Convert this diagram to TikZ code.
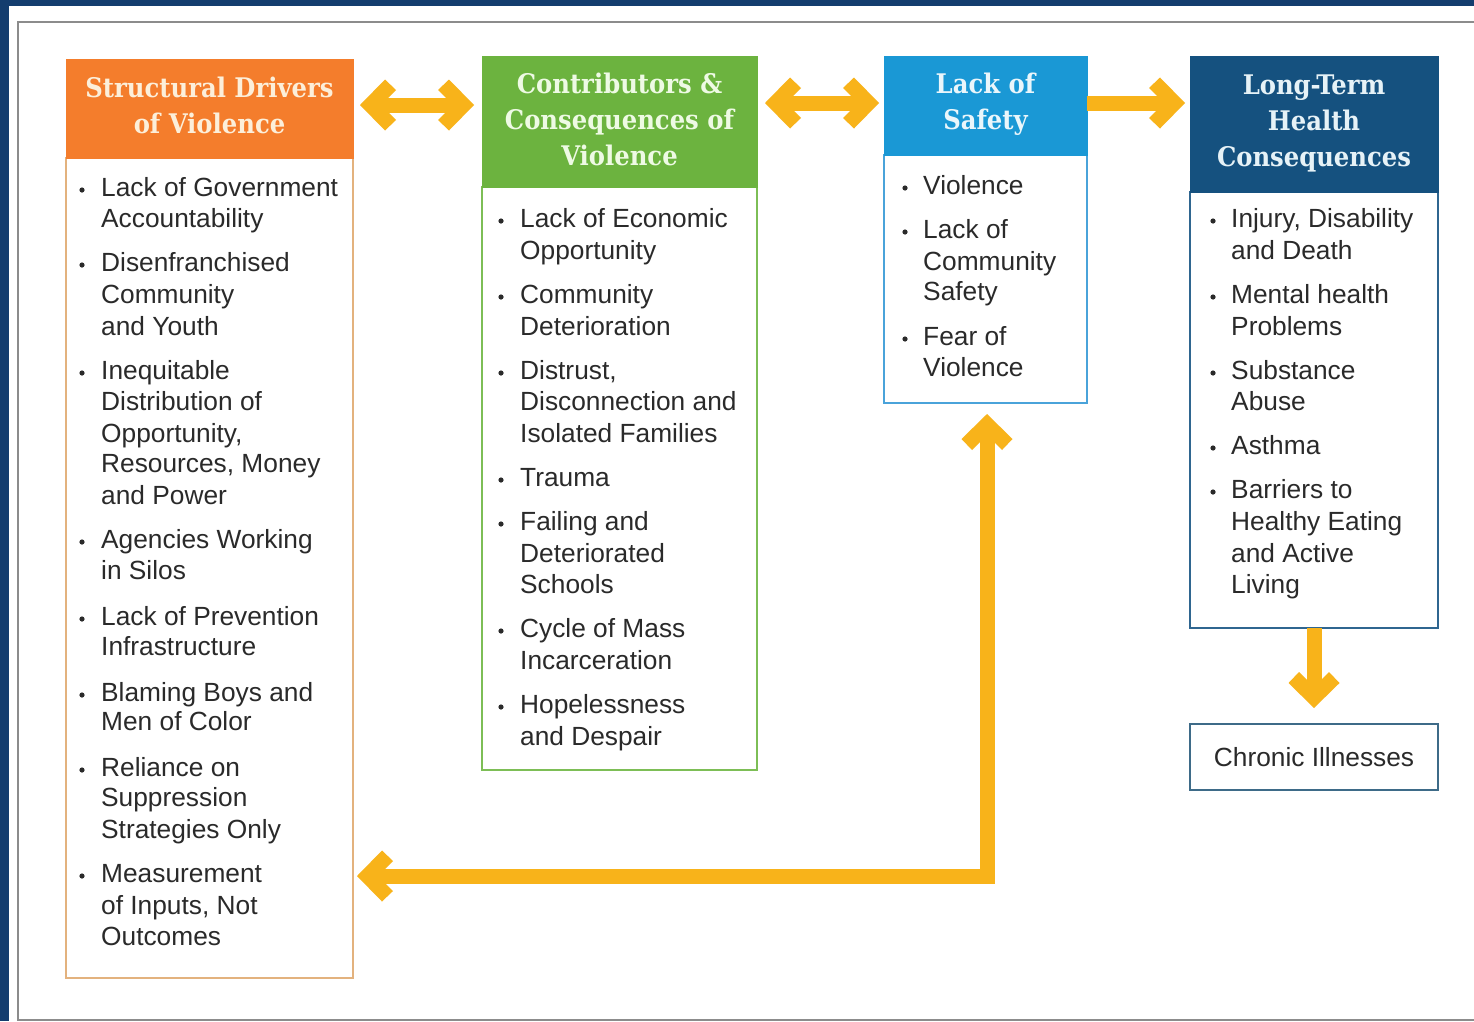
\documentclass[tikz,border=0pt]{standalone}
\usepackage{fontspec}
\setmainfont{Liberation Sans}
\newfontfamily\hdrfont{DejaVu Serif Condensed}
\usetikzlibrary{arrows.meta}
\definecolor{navyfr}{HTML}{143D6E}
\definecolor{gframe}{HTML}{8C8C8C}
\definecolor{corange}{HTML}{F47D2C}
\definecolor{cgreen}{HTML}{6CB33F}
\definecolor{cblue}{HTML}{1A98D5}
\definecolor{cnavy}{HTML}{15517F}
\definecolor{ayel}{HTML}{F8B31A}
\definecolor{tcol}{HTML}{2A2A2A}
\definecolor{bor1}{HTML}{E3B27E}
\definecolor{bor2}{HTML}{7DBE56}
\definecolor{bor3}{HTML}{4AA3DA}
\definecolor{bor4}{HTML}{2F6690}
\definecolor{bor5}{HTML}{3E6B88}
\definecolor{ht1}{HTML}{FCEFDA}
\definecolor{ht2}{HTML}{EEFAE4}
\definecolor{ht3}{HTML}{EAF6FB}
\definecolor{ht4}{HTML}{E6F2F7}

\pgfdeclarearrow{
  name = Chev,
  parameters = {},
  setup code = {
    \pgfarrowssettipend{0pt}
    \pgfarrowssetlineend{-16pt}
    \pgfarrowssetbackend{-36pt}
    \pgfarrowshullpoint{0pt}{0pt}
    \pgfarrowsupperhullpoint{-25pt}{25.5pt}
    \pgfarrowsupperhullpoint{-36pt}{15pt}
  },
  drawing code = {
    \pgfsetfillcolor{ayel}
    \pgfpathmoveto{\pgfqpoint{0pt}{0pt}}
    \pgfpathlineto{\pgfqpoint{-25pt}{25.5pt}}
    \pgfpathlineto{\pgfqpoint{-36pt}{15pt}}
    \pgfpathlineto{\pgfqpoint{-21pt}{0pt}}
    \pgfpathlineto{\pgfqpoint{-36pt}{-15pt}}
    \pgfpathlineto{\pgfqpoint{-25pt}{-25.5pt}}
    \pgfpathclose
    \pgfusepathqfill
  }
}

\newcounter{tl}
\newcommand\tline[3]{\stepcounter{tl}\node[btext] (tl\arabic{tl}) at (#1,#2) {#3};}
\newcommand\bul[2]{\fill[tcol] (#1,#2-6) circle (2.6);}

\tikzset{
  hdrbox/.style={anchor=north west, inner sep=0pt, outer sep=0pt},
  hdrtext/.style={inner sep=0pt, align=center,
    font=\hdrfont\bfseries\fontsize{27}{36}\selectfont},
  bodybox/.style={anchor=north west, draw, line width=2pt, fill=white, inner sep=0pt, outer sep=0pt},
  btext/.style={anchor=base west, inner sep=0pt, text=tcol,
    font=\fontsize{26.3}{31.5}\selectfont},
  yarr/.style={draw=ayel, line width=15pt, line join=miter},
}

\begin{document}
\begin{tikzpicture}[x=1pt,y=-1pt]
\useasboundingbox (0,0) rectangle (1474,1021);
\fill[white] (0,0) rectangle (1474,1021);
\fill[navyfr] (0,0) rectangle (1474,5.5);
\fill[navyfr] (0,0) rectangle (9,1021);
\draw[gframe, line width=2pt] (1480,22) -- (18,22) -- (18,1019.5) -- (1480,1019.5);

% body boxes
\node[bodybox, draw=bor1, minimum width=287pt, minimum height=820pt] (b1) at (66,158) {};
\node[bodybox, draw=bor2, minimum width=275pt, minimum height=583pt] (b2) at (482,187) {};
\node[bodybox, draw=bor3, minimum width=203pt, minimum height=248pt] (b3) at (884,155) {};
\node[bodybox, draw=bor4, minimum width=248pt, minimum height=436pt] (b4) at (1190,192) {};
\node[bodybox, draw=bor5, minimum width=248pt, minimum height=66pt, text=tcol,
  font=\fontsize{26.3}{31.5}\selectfont] (b5) at (1190,724) {Chronic Illnesses};

% headers
\node[hdrbox, fill=corange, minimum width=288pt, minimum height=100pt] (h1) at (65.5,58.5) {};
\node[hdrbox, fill=cgreen, minimum width=276pt, minimum height=132pt] (h2) at (481.5,55.5) {};
\node[hdrbox, fill=cblue, minimum width=204pt, minimum height=100pt] (h3) at (883.5,55.5) {};
\node[hdrbox, fill=cnavy, minimum width=249pt, minimum height=137pt] (h4) at (1189.5,55.5) {};
\node[hdrtext, text=ht1] (h1t) at ([yshift=3pt]h1.center) {Structural Drivers\\of Violence};
\node[hdrtext, text=ht2] (h2t) at ([yshift=2.5pt]h2.center) {Contributors \&\\Consequences of\\Violence};
\node[hdrtext, text=ht3] (h3t) at ([yshift=1.5pt]h3.center) {Lack of\\Safety};
\node[hdrtext, text=ht4] (h4t) at ([yshift=1pt]h4.center) {Long-Term\\Health\\Consequences};

% column 1
\bul{82}{196}
\tline{101}{196}{Lack of Government}
\tline{101}{227}{Accountability}
\bul{82}{271}
\tline{101}{271}{Disenfranchised}
\tline{101}{303}{Community}
\tline{101}{335}{and Youth}
\bul{82}{379}
\tline{101}{379}{Inequitable}
\tline{101}{410}{Distribution of}
\tline{101}{442}{Opportunity,}
\tline{101}{472}{Resources, Money}
\tline{101}{504}{and Power}
\bul{82}{548}
\tline{101}{548}{Agencies Working}
\tline{101}{579}{in Silos}
\bul{82}{625}
\tline{101}{625}{Lack of Prevention}
\tline{101}{655}{Infrastructure}
\bul{82}{701}
\tline{101}{701}{Blaming Boys and}
\tline{101}{730}{Men of Color}
\bul{82}{776}
\tline{101}{776}{Reliance on}
\tline{101}{806}{Suppression}
\tline{101}{838}{Strategies Only}
\bul{82}{882}
\tline{101}{882}{Measurement}
\tline{101}{914}{of Inputs, Not}
\tline{101}{945}{Outcomes}

% column 2
\bul{501}{227}
\tline{520}{227}{Lack of Economic}
\tline{520}{259}{Opportunity}
\bul{501}{303}
\tline{520}{303}{Community}
\tline{520}{335}{Deterioration}
\bul{501}{379}
\tline{520}{379}{Distrust,}
\tline{520}{410}{Disconnection and}
\tline{520}{442}{Isolated Families}
\bul{501}{486}
\tline{520}{486}{Trauma}
\bul{501}{530}
\tline{520}{530}{Failing and}
\tline{520}{562}{Deteriorated}
\tline{520}{593}{Schools}
\bul{501}{637}
\tline{520}{637}{Cycle of Mass}
\tline{520}{669}{Incarceration}
\bul{501}{713}
\tline{520}{713}{Hopelessness}
\tline{520}{745}{and Despair}

% column 3
\bul{905}{194}
\tline{923}{194}{Violence}
\bul{905}{238}
\tline{923}{238}{Lack of}
\tline{923}{270}{Community}
\tline{923}{300}{Safety}
\bul{905}{345}
\tline{923}{345}{Fear of}
\tline{923}{376}{Violence}

% column 4
\bul{1213}{227}
\tline{1231}{227}{Injury, Disability}
\tline{1231}{259}{and Death}
\bul{1213}{303}
\tline{1231}{303}{Mental health}
\tline{1231}{335}{Problems}
\bul{1213}{379}
\tline{1231}{379}{Substance}
\tline{1231}{410}{Abuse}
\bul{1213}{454}
\tline{1231}{454}{Asthma}
\bul{1213}{498}
\tline{1231}{498}{Barriers to}
\tline{1231}{530}{Healthy Eating}
\tline{1231}{562}{and Active}
\tline{1231}{593}{Living}

% arrows
\coordinate (a1s) at (360,105);
\coordinate (a1e) at (474,105);
\coordinate (a2s) at (765,103);
\coordinate (a2e) at (879,103);
\coordinate (a3s) at (1087,103);
\coordinate (a3e) at (1185,103);
\coordinate (a4e) at (b4.south |- 0,708);
\coordinate (a5s) at (987,414);
\coordinate (a5e) at (357,876);
\draw[yarr, {Chev}-{Chev}] (a1s) -- (a1e);
\draw[yarr, {Chev}-{Chev}] (a2s) -- (a2e);
\draw[yarr, -{Chev}] (a3s) -- (a3e);
\draw[yarr, -{Chev}] (b4.south) -- (a4e);
\draw[yarr, {Chev}-{Chev}] (a5s) |- (a5e);
\end{tikzpicture}
\end{document}
